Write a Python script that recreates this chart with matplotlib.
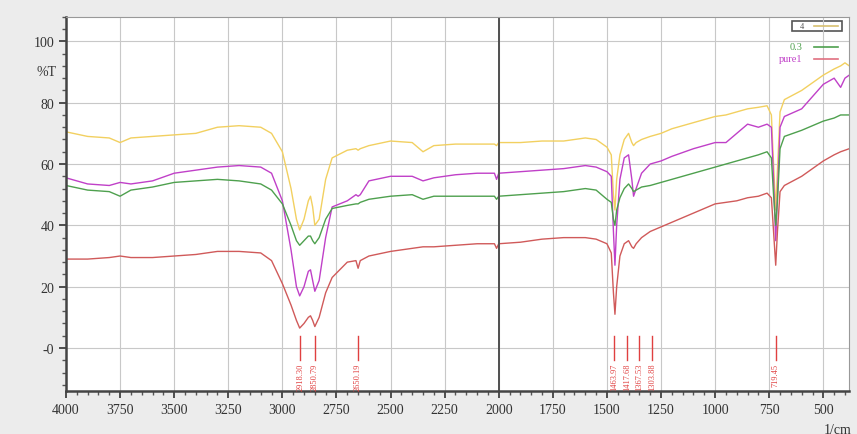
import matplotlib
matplotlib.use("Agg")
import matplotlib.pyplot as plt
from matplotlib.ticker import MultipleLocator, FixedLocator
from matplotlib.patches import Rectangle

plt.rcParams['font.family'] = ['Liberation Serif', 'DejaVu Serif']

# wavenumbers (1/cm) shared by all four spectra
wn = [4000, 3900, 3800, 3750, 3700, 3600, 3500, 3400, 3300, 3200, 3100, 3050, 3000,
      2960, 2935, 2920, 2900, 2880, 2870, 2860, 2850, 2830, 2800, 2770, 2700, 2660,
      2650, 2640, 2600, 2500, 2400, 2350, 2300, 2200, 2100, 2020, 2010, 2000, 1900,
      1800, 1700, 1600, 1550, 1500, 1480, 1470, 1463, 1455, 1440, 1420, 1400, 1385,
      1377, 1365, 1340, 1300, 1250, 1200, 1100, 1000, 950, 900, 850, 800, 760, 740,
      730, 720, 712, 700, 680, 600, 500, 450, 420, 400, 380]

yellow_t = [70.5, 69, 68.5, 67, 68.5, 69, 69.5, 70, 72, 72.5, 72, 70, 64,
            52, 42, 38.5, 42, 48, 49.5, 46, 40, 42, 55, 62, 64.5, 65,
            64.5, 65, 66, 67.5, 67, 64, 66, 66.5, 66.5, 66.5, 66, 67, 67,
            67.5, 67.5, 68.5, 68, 65.5, 63, 50, 45, 55, 63, 68, 70, 67,
            66, 67, 68, 69, 70, 71.5, 73.5, 75.5, 76, 77, 78, 78.5, 79, 76,
            60, 45, 58, 77, 81, 84, 89, 91, 92, 93, 92]

pure1_t = [55.5, 53.5, 53, 54, 53.5, 54.5, 57, 58, 59, 59.5, 59, 57, 48,
           32, 20, 17, 20, 25, 25.5, 22, 18.5, 22, 36, 46, 48, 50,
           49.5, 50, 54.5, 56, 56, 54.5, 55.5, 56.5, 57, 57, 55, 57, 57.5,
           58, 58.5, 59.5, 59, 57.5, 56, 38, 27, 40, 55, 62, 63, 55,
           49.5, 52, 57, 60, 61, 62.5, 65, 67, 67, 70, 73, 72, 73, 72,
           55, 35, 50, 72, 75.5, 78, 86, 88, 85, 88, 89]

s03_t = [53, 51.5, 51, 49.5, 51.5, 52.5, 54, 54.5, 55, 54.5, 53.5, 51.5, 47,
         40, 35, 33.5, 35, 36.5, 36.5, 35, 34, 36, 42, 45.5, 46.5, 47,
         47, 47.5, 48.5, 49.5, 50, 48.5, 49.5, 49.5, 49.5, 49.5, 48.5, 49.5, 50,
         50.5, 51, 52, 51.5, 48.5, 47.5, 42, 40, 45, 49, 52, 53.5, 52,
         51, 51.5, 52.5, 53, 54, 55, 57, 59, 60, 61, 62, 63, 64, 62,
         50, 40, 48, 65, 69, 71, 74, 75, 76, 76, 76]

red_t = [29, 29, 29.5, 30, 29.5, 29.5, 30, 30.5, 31.5, 31.5, 31, 28.5, 21,
         14, 9, 6.5, 8, 10, 10.5, 9, 7, 10, 18, 23, 28, 28.5,
         26, 28.5, 30, 31.5, 32.5, 33, 33, 33.5, 34, 34, 32.5, 34, 34.5,
         35.5, 36, 36, 35.5, 34, 31, 18, 11, 20, 30, 34, 35, 33,
         32.5, 34, 36, 38, 39.5, 41, 44, 47, 47.5, 48, 49, 49.5, 50.5, 49,
         38, 27, 38, 51, 53, 56, 61, 63, 64, 64.5, 65]

peak_wn = [2918, 2850, 2650, 1467, 1408, 1350, 1290, 720]
peak_labels = ["2918.30", "2850.79", "2650.19", "1463.97", "1417.68",
               "1367.53", "1303.88", "719.45"]

fig = plt.figure(figsize=(8.57, 4.35), dpi=100, facecolor='#ececec')
ax = fig.add_axes([0.077, 0.099, 0.914, 0.860])

ax.plot(wn, yellow_t, color='#f2d060', lw=1.0)
ax.plot(wn, pure1_t, color='#c040c8', lw=1.0)
ax.plot(wn, s03_t, color='#4ea04e', lw=1.0)
ax.plot(wn, red_t, color='#d05a5a', lw=1.0)

ax.axvline(2000, color='#505050', lw=1.4)

# peak markers
for p, lab in zip(peak_wn, peak_labels):
    ax.plot([p, p], [-4, 4], color='#e04040', lw=1.0)
    ax.text(p, -4.8, lab, rotation=90, ha='center', va='top', fontsize=6,
            color='#e04040')

ax.set_xlim(4000, 380)
ax.set_ylim(-14, 108)
ax.xaxis.set_major_locator(MultipleLocator(250))
ax.xaxis.set_minor_locator(MultipleLocator(50))
ax.yaxis.set_major_locator(FixedLocator([0, 20, 40, 60, 80, 100]))
ax.yaxis.set_minor_locator(MultipleLocator(4))
ax.set_yticklabels(['-0', '20', '40', '60', '80', '100'])
ax.grid(True, which='major', color='#c8c8c8', lw=0.8)
ax.tick_params(labelsize=10, length=5, width=1.2, colors='#333333')
ax.tick_params(which='minor', length=3, width=1.0, colors='#555555')
for s in ['top', 'right']:
    ax.spines[s].set_color('#999999')
for s in ['left', 'bottom']:
    ax.spines[s].set_color('#444444')
    ax.spines[s].set_linewidth(1.8)

ax.text(-0.012, 0.855, '%T', transform=ax.transAxes, ha='right', va='center',
        fontsize=10, color='#333333')
ax.text(0.985, -0.085, '1/cm', transform=ax.transAxes, ha='center', va='top',
        fontsize=10, color='#333333')

# legend
ax.add_patch(Rectangle((0.927, 0.963), 0.064, 0.026, transform=ax.transAxes,
                       fill=False, edgecolor='#555555', lw=1.2))
ax.text(0.94, 0.976, '4', transform=ax.transAxes, ha='center', va='center',
        fontsize=6, color='#555555')
ax.plot([0.955, 0.985], [0.976, 0.976], transform=ax.transAxes, color='#d8c070', lw=1.2)
ax.text(0.94, 0.92, '0.3', transform=ax.transAxes, ha='right', va='center',
        fontsize=7.5, color='#4ea04e')
ax.plot([0.955, 0.985], [0.92, 0.92], transform=ax.transAxes, color='#4ea04e', lw=1.2)
ax.text(0.94, 0.888, 'pure1', transform=ax.transAxes, ha='right', va='center',
        fontsize=7.5, color='#c040c8')
ax.plot([0.955, 0.985], [0.888, 0.888], transform=ax.transAxes, color='#e07080', lw=1.2)

plt.savefig('out.png', dpi=100, facecolor=fig.get_facecolor())
